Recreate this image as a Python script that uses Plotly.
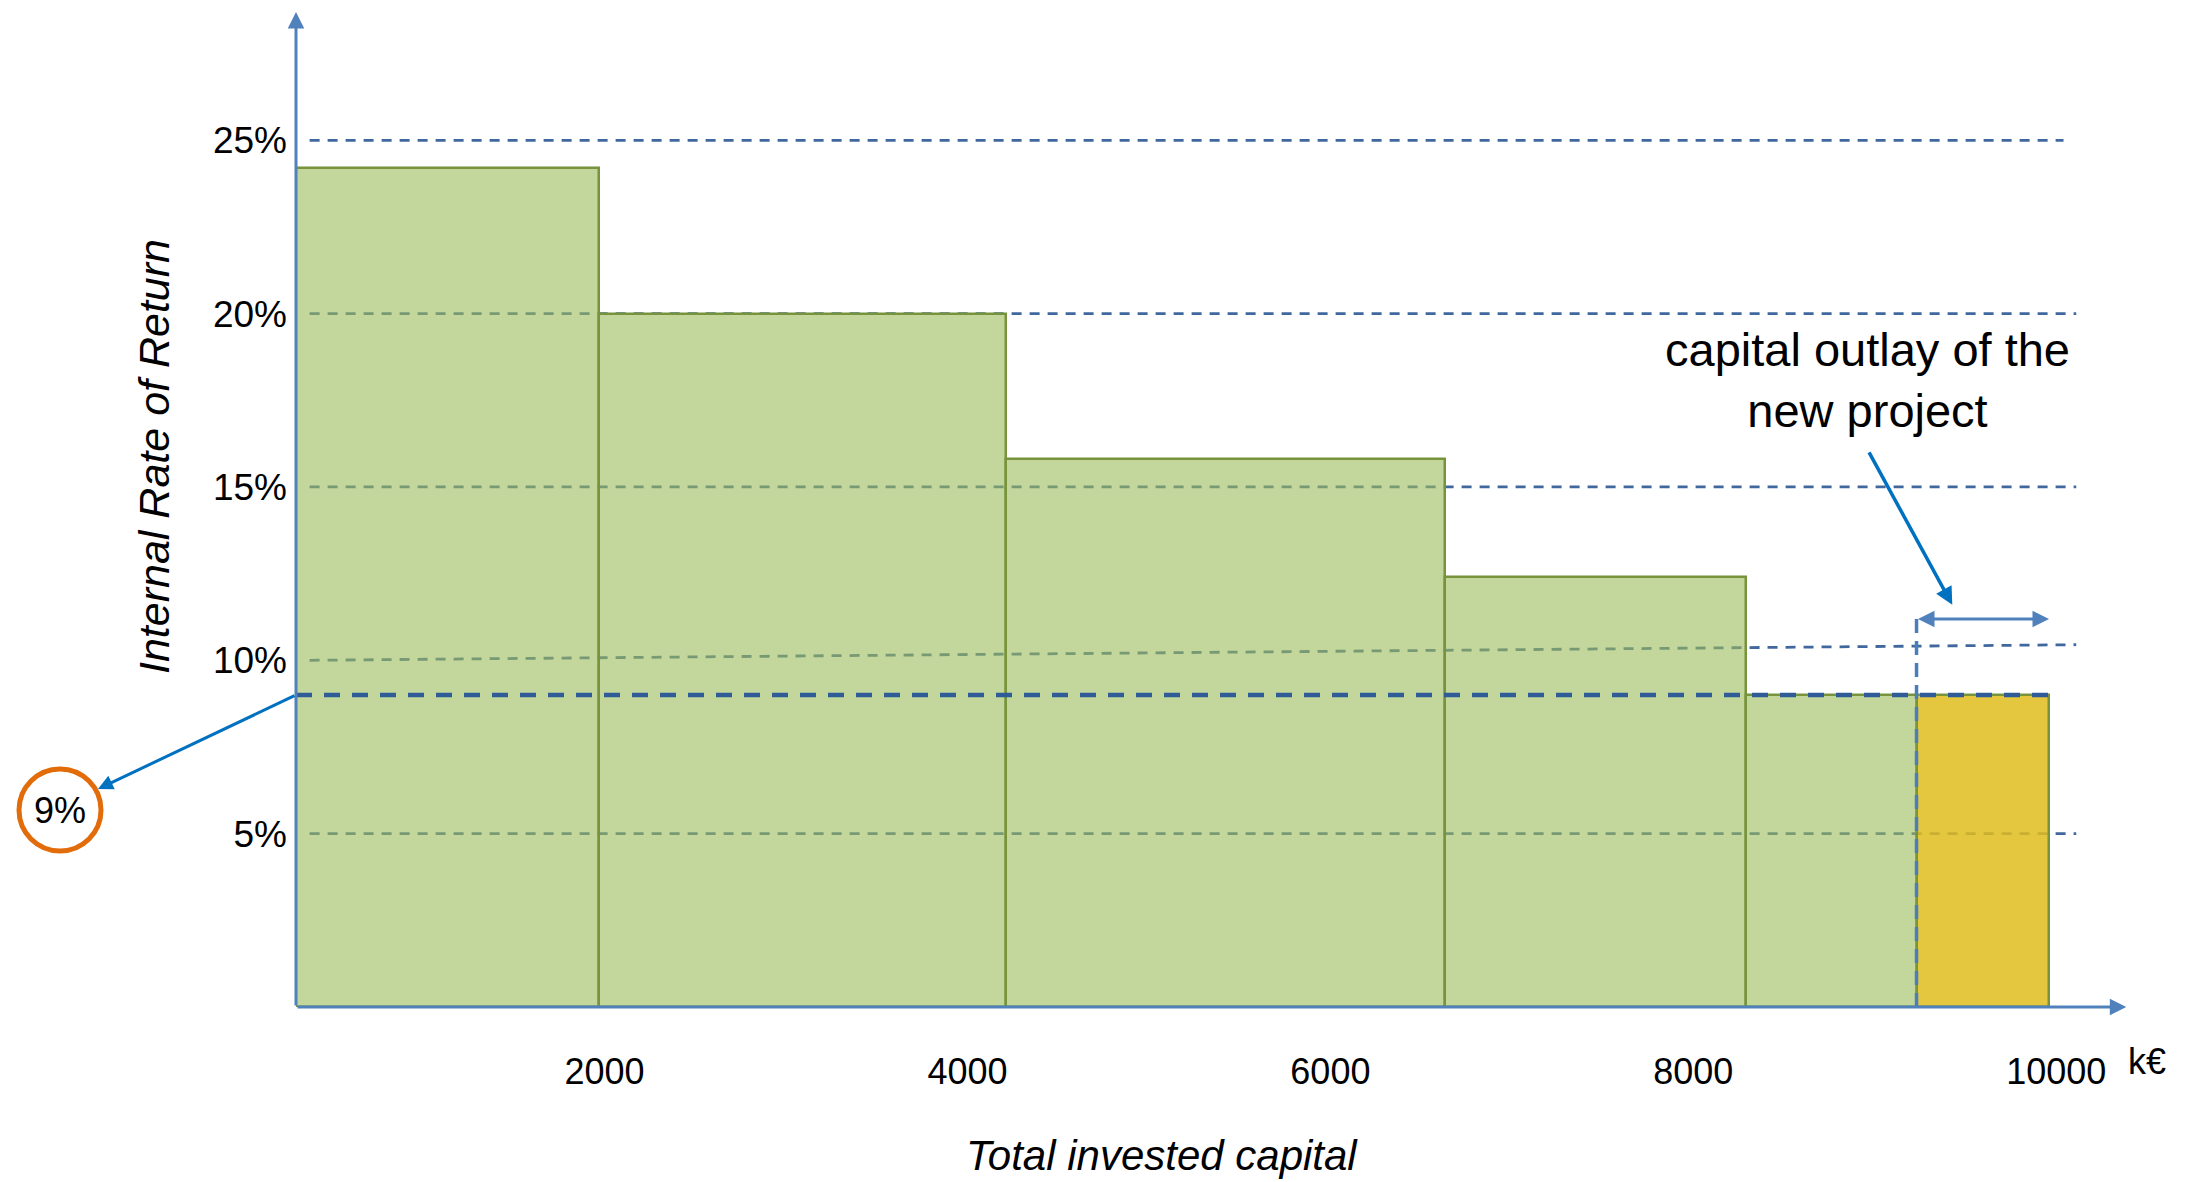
import numpy as np
import plotly.graph_objects as go

# ---------------- data ----------------
projects = ["Project 1", "Project 2", "Project 3", "Project 4", "Project 5", "New project"]
capital_start_keur = 300
project_capital_keur = [1670, 2240, 2420, 1660, 940, 730]
irr_pct = [24.2, 20.0, 15.8, 12.4, 9.0, 9.0]
hurdle_irr_pct = 9.0

x_tick_vals = [2000, 4000, 6000, 8000, 10000]
x_tick_text = ["2000", "4000", "6000", "8000", "10000"]
y_tick_vals = [5, 10, 15, 20, 25]
y_tick_text = ["5%", "10%", "15%", "20%", "25%"]
grid_levels = [5, 10, 15, 20, 25]

# ---------------- derived ----------------
edges = np.concatenate([[capital_start_keur], capital_start_keur + np.cumsum(project_capital_keur)])
centers = (edges[:-1] + edges[1:]) / 2
widths = np.array(project_capital_keur)
new_start, new_end = edges[-2], edges[-1]

GREEN = "rgba(155,187,89,0.6)"
YELLOW = "rgba(225,188,29,0.85)"
OUTLINE = "#77933C"
AXBLUE = "#4F81BD"
PTRBLUE = "#0070C0"
GRIDBLUE = "#41689E"
DARKBLUE = "#2F5C99"
ORANGE = "#E36C0A"
FONT = "Liberation Sans, Arial, sans-serif"

W, H = 2190, 1182
L, R, T, B = 296, 43, 12, 175
X_RANGE = [300, 10500]
Y_RANGE = [0, 28.7]
PW, PH = W - L - R, H - T - B


def paper_x(px):
    return (px - L) / PW


def paper_y(py):
    return 1 - (py - T) / PH


def pix_y(v):
    return T + (1 - (v - Y_RANGE[0]) / (Y_RANGE[1] - Y_RANGE[0])) * PH


colors = [GREEN] * (len(projects) - 1) + [YELLOW]

fig = go.Figure()
fig.add_trace(go.Bar(
    x=centers, y=irr_pct, width=widths,
    marker=dict(color=colors, line=dict(color=OUTLINE, width=2.5)),
    hoverinfo="skip", showlegend=False,
))

shapes = []
# dashed reference lines (below bars)
for lvl in grid_levels:
    y1 = lvl + (0.45 if lvl == 10 else 0)
    x_end = 10040 if lvl == 25 else 10110
    shapes.append(dict(type="line", xref="x", yref="y", x0=375, x1=x_end, y0=lvl, y1=y1,
                       layer="below", line=dict(color=GRIDBLUE, width=2.8, dash="10px,8px")))
# hurdle rate line
shapes.append(dict(type="line", xref="x", yref="y", x0=edges[0], x1=new_end,
                   y0=hurdle_irr_pct, y1=hurdle_irr_pct, layer="above",
                   line=dict(color=DARKBLUE, width=4.5, dash="16px,12px")))
# new project start marker
marker_y = 11.19
shapes.append(dict(type="line", xref="x", yref="y", x0=new_start, x1=new_start,
                   y0=0, y1=marker_y, layer="above",
                   line=dict(color="#4A7EBB", width=3.5, dash="14px,8px")))
# orange circle around 9%
shapes.append(dict(type="circle", xref="paper", yref="paper",
                   x0=paper_x(19), x1=paper_x(101), y0=paper_y(851), y1=paper_y(769),
                   line=dict(color=ORANGE, width=5), fillcolor="rgba(0,0,0,0)"))

annotations = []
# axes as arrows
annotations.append(dict(x=10386, y=0, ax=edges[0], ay=0, xref="x", yref="y", axref="x", ayref="y",
                        text="", showarrow=True, arrowhead=2, arrowsize=1.1, arrowwidth=3,
                        arrowcolor=AXBLUE, standoff=0))
annotations.append(dict(x=edges[0], y=Y_RANGE[1], ax=edges[0], ay=0, xref="x", yref="y", axref="x", ayref="y",
                        text="", showarrow=True, arrowhead=2, arrowsize=1.1, arrowwidth=3,
                        arrowcolor=AXBLUE, standoff=0))
# double arrow for capital outlay
annotations.append(dict(x=new_end, y=marker_y, ax=new_start, ay=marker_y, xref="x", yref="y", axref="x", ayref="y",
                        text="", showarrow=True, arrowhead=2, startarrowhead=2, arrowside="end+start",
                        arrowsize=1.1, startarrowsize=1.1, arrowwidth=3, arrowcolor=AXBLUE,
                        standoff=0, startstandoff=0))
# pointer from text
annotations.append(dict(x=9427, y=11.6, ax=8964, ay=16.04, xref="x", yref="y", axref="x", ayref="y",
                        text="", showarrow=True, arrowhead=2, arrowsize=1.0, arrowwidth=3.5,
                        arrowcolor=PTRBLUE, standoff=0))
annotations.append(dict(x=paper_x(1867), y=paper_y(380), xref="paper", yref="paper",
                        text="capital outlay of the<br>new project", showarrow=False,
                        xanchor="center", yanchor="middle", align="center",
                        font=dict(family=FONT, size=47, color="black")))
# pointer to 9% circle
head_px, head_py = 98, 789
annotations.append(dict(x=paper_x(head_px), y=paper_y(head_py), xref="paper", yref="paper",
                        ax=L - head_px, ay=pix_y(hurdle_irr_pct) - head_py, axref="pixel", ayref="pixel",
                        text="", showarrow=True, arrowhead=2, arrowsize=1.0, arrowwidth=3,
                        arrowcolor=PTRBLUE, standoff=0))
annotations.append(dict(x=paper_x(60), y=paper_y(810), xref="paper", yref="paper",
                        text=f"{hurdle_irr_pct:.0f}%", showarrow=False, xanchor="center", yanchor="middle",
                        font=dict(family=FONT, size=36, color="black")))
# titles
annotations.append(dict(x=paper_x(154), y=paper_y(457), xref="paper", yref="paper",
                        text="<i>Internal Rate of Return</i>", textangle=-90, showarrow=False,
                        xanchor="center", yanchor="middle", font=dict(family=FONT, size=43, color="black")))
annotations.append(dict(x=paper_x(1162), y=paper_y(1155), xref="paper", yref="paper",
                        text="<i>Total invested capital</i>", showarrow=False,
                        xanchor="center", yanchor="middle", font=dict(family=FONT, size=42, color="black")))
annotations.append(dict(x=paper_x(2147), y=paper_y(1061), xref="paper", yref="paper",
                        text="k€", showarrow=False, xanchor="center", yanchor="middle",
                        font=dict(family=FONT, size=36, color="black")))

fig.update_layout(
    width=W, height=H,
    margin=dict(l=L, r=R, t=T, b=B, autoexpand=False),
    paper_bgcolor="white", plot_bgcolor="white",
    bargap=0, showlegend=False,
    shapes=shapes, annotations=annotations,
    font=dict(family=FONT, color="black"),
)
fig.update_xaxes(range=X_RANGE, tickvals=x_tick_vals, ticktext=x_tick_text, showgrid=False,
                 zeroline=False, showline=False, ticks="", ticklabelstandoff=40,
                 tickfont=dict(family=FONT, size=36, color="black"), fixedrange=True)
fig.update_yaxes(range=Y_RANGE, tickvals=y_tick_vals, ticktext=y_tick_text, showgrid=False,
                 zeroline=False, showline=False, ticks="", ticklabelstandoff=8,
                 tickfont=dict(family=FONT, size=37, color="black"), fixedrange=True)

fig.write_html("out.html")
